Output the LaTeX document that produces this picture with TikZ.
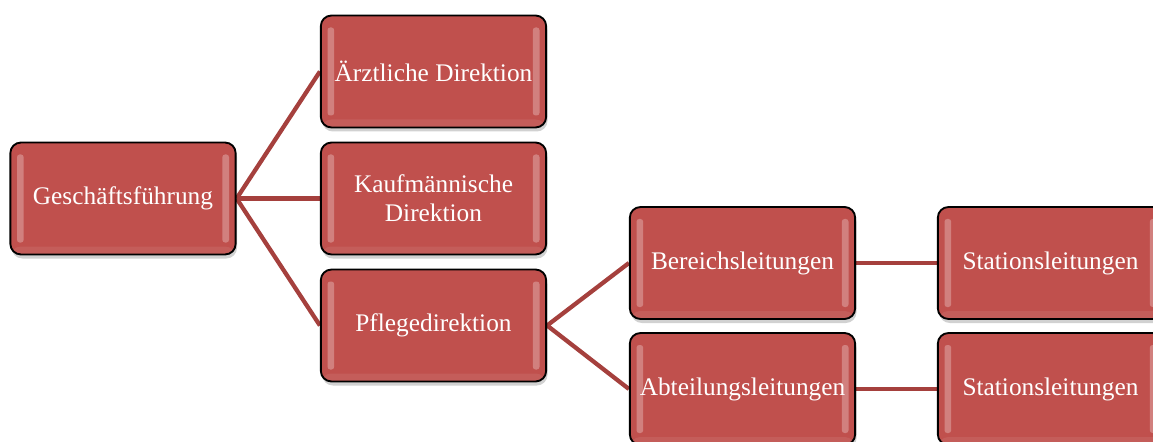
\documentclass[tikz,border=0pt]{standalone}
\usepackage{fontspec}
\setmainfont{Liberation Serif}
\usetikzlibrary{backgrounds,shadows}
\definecolor{boxred}{HTML}{C0504D}
\definecolor{linkred}{HTML}{A5403D}
\begin{document}
\begin{tikzpicture}[x=0.75pt,y=-0.75pt,
  orgbox/.style={draw=black, line width=1.4pt, fill=boxred, rounded corners=8pt,
    minimum width=169pt, minimum height=84pt, inner sep=2pt,
    text=white, font=\fontsize{19pt}{22pt}\selectfont, align=center,
    drop shadow={shadow xshift=1pt, shadow yshift=-3pt, opacity=0.18, fill=black},
    path picture={
      \fill[white, opacity=0.28, rounded corners=2pt]
        ([xshift=5pt, yshift=-9pt]path picture bounding box.north west)
        rectangle ([xshift=10pt, yshift=9pt]path picture bounding box.south west);
      \fill[white, opacity=0.28, rounded corners=2pt]
        ([xshift=-10pt, yshift=-9pt]path picture bounding box.north east)
        rectangle ([xshift=-5pt, yshift=9pt]path picture bounding box.south east);
      \fill[white, opacity=0.08]
        ([yshift=6pt]path picture bounding box.south west)
        rectangle (path picture bounding box.south east);
    }},
  link/.style={draw=linkred, line width=3.2pt}]
\useasboundingbox (0,0) rectangle (1153,442);
\clip (0,0) rectangle (1153,442);

% management level
\node[orgbox] (gf) at (123,198.5) {Geschäftsführung};

% directorates
\node[orgbox] (ad) at (433.5,71.5) {Ärztliche Direktion};
\node[orgbox] (kd) at (433.5,198.5) {Kaufmännische\\Direktion};
\node[orgbox] (pd) at (433.5,325.5) {Pflegedirektion};

% nursing sublevels
\node[orgbox] (bl) at (742.5,263) {Bereichsleitungen};
\node[orgbox] (al) at (742.5,389) {Abteilungsleitungen};

% ward management
\node[orgbox] (s1) at (1050.5,263) {Stationsleitungen};
\node[orgbox] (s2) at (1050.5,389) {Stationsleitungen};

% connectors
\begin{scope}[on background layer]
  \draw[link] (gf.east) -- (ad.west);
  \draw[link] (gf.east) -- (kd.west);
  \draw[link] (gf.east) -- (pd.west);
  \draw[link] (pd.east) -- (bl.west);
  \draw[link] (pd.east) -- (al.west);
  \draw[link] (bl.east) -- (s1.west);
  \draw[link] (al.east) -- (s2.west);
\end{scope}
\end{tikzpicture}
\end{document}
